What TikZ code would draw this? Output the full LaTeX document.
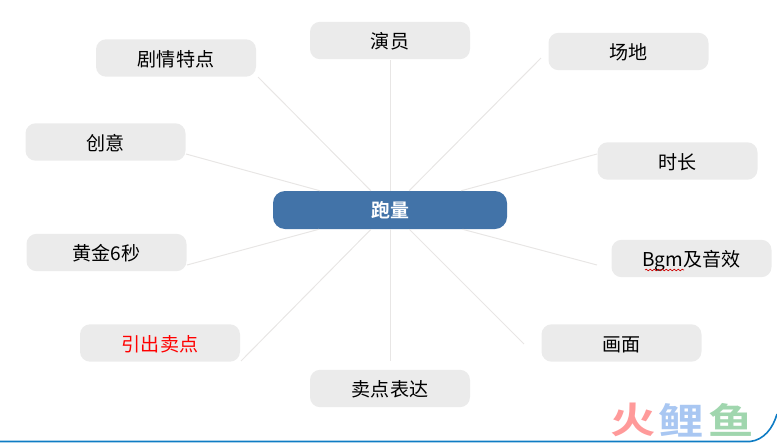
\documentclass[tikz,border=0pt]{standalone}
\usepackage{fontspec}
\setmainfont{Noto Sans CJK SC}
\newfontfamily\boldcjk{Noto Sans CJK SC Bold}
\usetikzlibrary{decorations.pathmorphing}
\definecolor{boxgray}{HTML}{EBEBEB}
\definecolor{spokegray}{HTML}{E8E6E5}
\definecolor{hubblue}{HTML}{4273A8}
\definecolor{edgeblue}{HTML}{0F7CC4}
\definecolor{logopink}{HTML}{FF9A9A}
\definecolor{logoblue}{HTML}{A9C7F2}
\definecolor{logogreen}{HTML}{A0D6AE}
\tikzset{
  topic/.style={fill=boxgray,rounded corners=7.5pt,minimum width=120pt,minimum height=28pt,
    inner sep=0pt,text height=12.5pt,text depth=.5pt,font=\fontsize{14.3pt}{16pt}\selectfont,text=black},
  spoke/.style={draw=spokegray,line width=.75pt},
  logo/.style={inner sep=0pt,yscale=.8,font=\fontsize{34pt}{36pt}\boldcjk\selectfont}
}
\begin{document}
\begin{tikzpicture}[x=.75pt,y=-.75pt]
  \useasboundingbox (0,0) rectangle (777,443);
  % center
  \node [fill=hubblue,rounded corners=9pt,minimum width=175.5pt,minimum height=28.5pt,inner sep=0pt,
    text=white,font=\fontsize{14.2pt}{16pt}\boldcjk\selectfont] (paoliang) at (390,210) {跑量};
  % topics
  \node [topic] (juqing) at (176,58) {剧情特点};
  \node [topic] (yanyuan) at (390,40.5) {演员};
  \node [topic] (changdi) at (628.5,51.5) {场地};
  \node [topic] (shichang) at (677.5,161) {时长};
  \node [topic] (bgm) at (691.5,258.5) {Bgm及音效};
  \node [topic] (huamian) at (621.5,343) {画面};
  \node [topic] (biaoda) at (390,388.5) {卖点表达};
  \node [topic,text=red] (yinchu) at (160,343) {引出卖点};
  \node [topic] (huangjin) at (106.5,252.5) {黄金6秒};
  \node [topic] (chuangyi) at (105.5,142) {创意};
  % free ends of the spokes
  \coordinate (e1) at (258,77);
  \coordinate (e2) at (390,60);
  \coordinate (e3) at (541,58);
  \coordinate (e4) at (597,154);
  \coordinate (e5) at (597,265);
  \coordinate (e6) at (524,344);
  \coordinate (e7) at (390,361);
  \coordinate (e8) at (241,361);
  \coordinate (e9) at (187,265);
  \coordinate (e10) at (186,154);
  \foreach \i in {1,...,10}
    \draw [spoke] (paoliang) -- (e\i);
  % squiggle under Bgm
  \coordinate (sqa) at (645,270);
  \coordinate (sqb) at (684,270);
  \draw [red!80!black,line width=.5pt,decorate,decoration={snake,amplitude=.6pt,segment length=3pt}] (sqa) -- (sqb);
  % watermark
  \node [logo,text=logopink] (huo) at (633,420) {火};
  \node [logo,text=logoblue] (li) at (681,420) {鲤};
  \node [logo,text=logogreen] (yu) at (731,420) {鱼};
  % slide edge
  \coordinate (ea) at (0,441.5);
  \coordinate (eb) at (750,441.5);
  \coordinate (ec) at (777,414);
  \draw [edgeblue,line width=1.2pt] (ea) -- (eb) .. controls (764,440) and (773,428) .. (ec);
\end{tikzpicture}
\end{document}
